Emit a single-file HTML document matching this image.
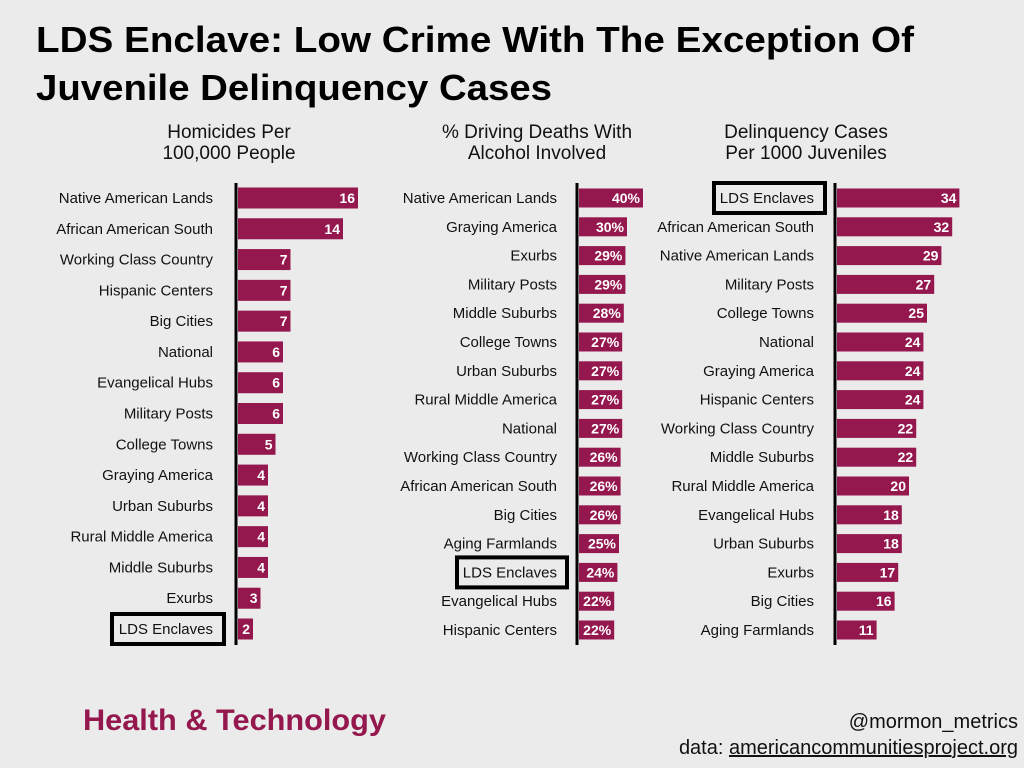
<!DOCTYPE html>
<html><head><meta charset="utf-8"><style>
html,body{margin:0;padding:0;background:#ebebeb;}
svg{display:block;font-family:"Liberation Sans",sans-serif;}
</style></head><body>
<svg id="c" width="1024" height="768" viewBox="0 0 1024 768">
<rect width="1024" height="768" fill="#ebebeb"/>
<text x="36" y="52" font-size="36" font-weight="bold" fill="#000" textLength="878" lengthAdjust="spacingAndGlyphs">LDS Enclave: Low Crime With The Exception Of</text>
<text x="36" y="100" font-size="36" font-weight="bold" fill="#000" textLength="516" lengthAdjust="spacingAndGlyphs">Juvenile Delinquency Cases</text>
<text x="83" y="730" font-size="30" font-weight="bold" fill="#94174e" textLength="303" lengthAdjust="spacingAndGlyphs">Health &amp; Technology</text>
<text x="1018" y="728" font-size="20" text-anchor="end" fill="#111">@mormon_metrics</text>
<text x="1018" y="754" font-size="20" text-anchor="end" fill="#111">data: <tspan text-decoration="underline">americancommunitiesproject.org</tspan></text>
<g id="panels"></g>
</svg>
<script>
const p1Categories=["Native American Lands","African American South","Working Class Country","Hispanic Centers","Big Cities","National","Evangelical Hubs","Military Posts","College Towns","Graying America","Urban Suburbs","Rural Middle America","Middle Suburbs","Exurbs","LDS Enclaves"];
const p1Values=[16,14,7,7,7,6,6,6,5,4,4,4,4,3,2];
const p2Categories=["Native American Lands","Graying America","Exurbs","Military Posts","Middle Suburbs","College Towns","Urban Suburbs","Rural Middle America","National","Working Class Country","African American South","Big Cities","Aging Farmlands","LDS Enclaves","Evangelical Hubs","Hispanic Centers"];
const p2Values=[40,30,29,29,28,27,27,27,27,26,26,26,25,24,22,22];
const p3Categories=["LDS Enclaves","African American South","Native American Lands","Military Posts","College Towns","National","Graying America","Hispanic Centers","Working Class Country","Middle Suburbs","Rural Middle America","Evangelical Hubs","Urban Suburbs","Exurbs","Big Cities","Aging Farmlands"];
const p3Values=[34,32,29,27,25,24,24,24,22,22,20,18,18,17,16,11];
const NS="http://www.w3.org/2000/svg";
const g=document.getElementById('panels');
function mk(tag,attrs,parent){const e=document.createElementNS(NS,tag);for(const k in attrs)e.setAttribute(k,attrs[k]);parent.appendChild(e);return e;}
function panel(cfg,cats,vals){
  const grp=mk('g',{},g);
  
  
  cfg.title.forEach((t,i)=>{
    const tt=mk('text',{x:cfg.tcx,y:138+i*21,'font-size':19,'text-anchor':'middle',fill:'#111'},grp);
    tt.textContent=t;
    
    
  });
  const n=cats.length;
  const y=i=>cfg.y0+i*(cfg.y1-cfg.y0)/(n-1);
  const x=v=>cfg.ax+2+v*cfg.scale;
  cats.forEach((c,i)=>{
    const cy=y(i);
    const r=mk('rect',{x:cfg.ax+2,y:cy-cfg.bh/2,width:x(vals[i])-cfg.ax-2,height:cfg.bh,fill:'#94174e'},grp);
    
    
    const vl=mk('text',{x:x(vals[i])-3,y:cy+5,'font-size':14,'font-weight':'bold','text-anchor':'end',fill:'#fff'},grp);
    vl.textContent=vals[i]+cfg.suffix;
    
    
    const lb=mk('text',{x:cfg.lx,y:cy+5,'font-size':15,'text-anchor':'end',fill:'#111'},grp);
    lb.textContent=c;
    
    
    if(c==="LDS Enclaves"){
      const b=mk('rect',{x:cfg.bx,y:cy-15,width:cfg.bw,height:30,fill:'none',stroke:'#000','stroke-width':4},grp);
      
      
    }
  });
  const ax=mk('line',{x1:cfg.ax,x2:cfg.ax,y1:183,y2:645,stroke:'#000','stroke-width':3},grp);
  
  
}
panel({name:'homicides-panel',title:['Homicides Per','100,000 People'],tcx:229,ax:236,scale:7.5,y0:198,y1:629,bh:21,lx:213,suffix:'',bx:112,bw:112},p1Categories,p1Values);
panel({name:'driving-deaths-panel',title:['% Driving Deaths With','Alcohol Involved'],tcx:537,ax:577,scale:1.6,y0:198,y1:630,bh:19,lx:557,suffix:'%',bx:457,bw:110},p2Categories,p2Values);
panel({name:'delinquency-panel',title:['Delinquency Cases','Per 1000 Juveniles'],tcx:806,ax:835,scale:3.6,y0:198,y1:630,bh:19,lx:814,suffix:'',bx:714,bw:111},p3Categories,p3Values);
</script>
</body></html>
